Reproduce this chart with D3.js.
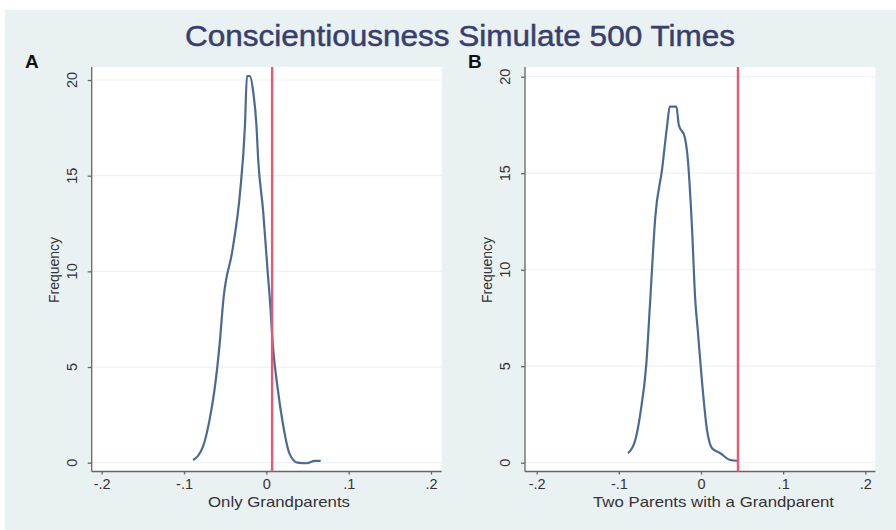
<!DOCTYPE html>
<html>
<head>
<meta charset="utf-8">
<script src="https://cdn.jsdelivr.net/npm/d3@7"></script>
<style>
  body { margin: 0; background: #fff; }
  text { font-family: "Liberation Sans", Arial, sans-serif; }
</style>
</head>
<body>
<div id="chart"></div>
<script>
// data
var xTicks = [-0.2, -0.1, 0, 0.1, 0.2];
var xTickLabels = ["-.2", "-.1", "0", ".1", ".2"];
var yTicks = [0, 5, 10, 15, 20];

var gpX = [-0.089, -0.077, -0.069, -0.063, -0.057, -0.052, -0.041, -0.032, -0.026, -0.0236, -0.020, -0.016, -0.012, -0.010, -0.004, 0.002, 0.004, 0.008, 0.014, 0.020, 0.028, 0.038, 0.049, 0.059, 0.066];
var gpY = [0.14, 0.84, 2.24, 3.8, 6.08, 8.6, 11.15, 14.1, 17.6, 20.2, 20.2, 19.4, 17.6, 15.9, 13.2, 9.75, 8.7, 6.08, 3.8, 2.06, 0.49, 0.0, -0.03, 0.1, 0.1];
var gpLine = 0.007;

var tpX = [-0.0888, -0.080, -0.0738, -0.0665, -0.0617, -0.0556, -0.0474, -0.0414, -0.038, -0.030, -0.027, -0.020, -0.016, -0.011, -0.007, -0.004, 0.001, 0.0073, 0.0134, 0.0235, 0.0357, 0.0446];
var tpY = [0.49, 1.18, 2.56, 5.15, 8.5, 12.75, 15.2, 17.4, 18.45, 18.45, 17.5, 16.9, 15.7, 12.2, 8.43, 6.9, 4.3, 1.7, 0.75, 0.49, 0.14, 0.1];
var tpLine = 0.045;

var width = 896;
var height = 530;

var svg = d3.select("#chart")
    .append("svg")
    .attr("width", width)
    .attr("height", height);

// graph region background
svg.append("rect")
    .attr("x", 5)
    .attr("y", 10)
    .attr("width", width - 5)
    .attr("height", height - 10)
    .attr("fill", "#e9f1f3");

svg.append("text")
    .attr("x", 460)
    .attr("y", 46)
    .attr("text-anchor", "middle")
    .attr("textLength", 550)
    .attr("lengthAdjust", "spacingAndGlyphs")
    .style("font-size", "30px")
    .attr("fill", "#383f6d")
    .attr("stroke", "#383f6d")
    .attr("stroke-width", 0.5)
    .text("Conscientiousness Simulate 500 Times");

function drawPanel(opts) {
    var g = svg.append("g");

    var x = d3.scaleLinear().domain([-0.2, 0.2]).range([opts.x0, opts.x1]);
    var y = d3.scaleLinear().domain([0, 20]).range([462.7, opts.y20]);

    var top = 67, bottom = 471.5;

    g.append("rect")
        .attr("x", opts.left)
        .attr("y", top)
        .attr("width", opts.right - opts.left)
        .attr("height", bottom - top)
        .attr("fill", "#fff");

    // gridlines
    g.selectAll(".grid")
        .data(yTicks)
        .enter().append("line")
        .attr("class", "grid")
        .attr("x1", opts.left)
        .attr("x2", opts.right)
        .attr("y1", function(d) { return y(d); })
        .attr("y2", function(d) { return y(d); })
        .attr("stroke", "#edf2f3")
        .attr("stroke-width", 1.2);

    // y axis
    var yAxis = g.append("g")
        .attr("transform", "translate(" + opts.left + ",0)")
        .call(d3.axisLeft(y).tickValues(yTicks).tickSize(4).tickFormat(""));
    yAxis.select(".domain").attr("d", "M0," + top + "V" + bottom);

    g.selectAll(".ylab")
        .data(yTicks)
        .enter().append("text")
        .attr("class", "ylab")
        .attr("transform", function(d) { return "translate(" + (opts.left - 20) + "," + y(d) + ") rotate(-90)"; })
        .attr("text-anchor", "middle")
        .attr("dy", "0.35em")
        .style("font-size", "14.5px")
        .attr("fill", "#333")
        .text(function(d) { return d; });

    // x axis
    var xAxis = g.append("g")
        .attr("transform", "translate(0," + bottom + ")")
        .call(d3.axisBottom(x).tickValues(xTicks).tickSize(3).tickFormat(function(d, i) { return xTickLabels[i]; }));
    xAxis.select(".domain").attr("d", "M" + opts.left + ",0H" + opts.right);
    xAxis.selectAll("text")
        .attr("y", 7)
        .style("font-size", "14.5px")
        .style("font-family", "Liberation Sans, Arial, sans-serif")
        .attr("fill", "#333");

    g.selectAll(".domain, .tick line").attr("stroke", "#666").attr("stroke-width", 1.3);

    g.append("text")
        .attr("transform", "translate(" + (opts.left - 38) + ",270) rotate(-90)")
        .attr("text-anchor", "middle")
        .attr("dy", "0.35em")
        .attr("textLength", 66)
        .attr("lengthAdjust", "spacingAndGlyphs")
        .style("font-size", "14px")
        .attr("fill", "#333")
        .text("Frequency");

    g.append("text")
        .attr("x", opts.labelX)
        .attr("y", 507)
        .attr("text-anchor", "middle")
        .attr("textLength", opts.labelW)
        .attr("lengthAdjust", "spacingAndGlyphs")
        .style("font-size", "15px")
        .attr("fill", "#333")
        .text(opts.xLabel);

    // density curve
    var pts = opts.xs.map(function(d, i) { return [d, opts.ys[i]]; });
    var line = d3.line()
        .x(function(d) { return x(d[0]); })
        .y(function(d) { return y(d[1]); })
        .curve(d3.curveMonotoneX);

    g.append("path")
        .datum(pts)
        .attr("d", line)
        .attr("fill", "none")
        .attr("stroke", "#4a6a93")
        .attr("stroke-width", 2.2);

    // observed value
    g.append("line")
        .attr("x1", x(opts.ref))
        .attr("x2", x(opts.ref))
        .attr("y1", top)
        .attr("y2", bottom)
        .attr("stroke", "#e35a72")
        .attr("stroke-width", 2.4);

    svg.append("text")
        .attr("x", opts.tagX)
        .attr("y", 68)
        .style("font-size", "19px")
        .style("font-weight", "bold")
        .attr("fill", "#111")
        .text(opts.tag);
}

drawPanel({
    left: 91.7, right: 441.7, x0: 101.7, x1: 431, y20: 80,
    xs: gpX, ys: gpY, ref: gpLine,
    xLabel: "Only Grandparents", labelX: 279, labelW: 142,
    tag: "A", tagX: 25
});

drawPanel({
    left: 525, right: 875.5, x0: 536.7, x1: 865.3, y20: 76.7,
    xs: tpX, ys: tpY, ref: tpLine,
    xLabel: "Two Parents with a Grandparent", labelX: 713.5, labelW: 241,
    tag: "B", tagX: 468
});
</script>
</body>
</html>
